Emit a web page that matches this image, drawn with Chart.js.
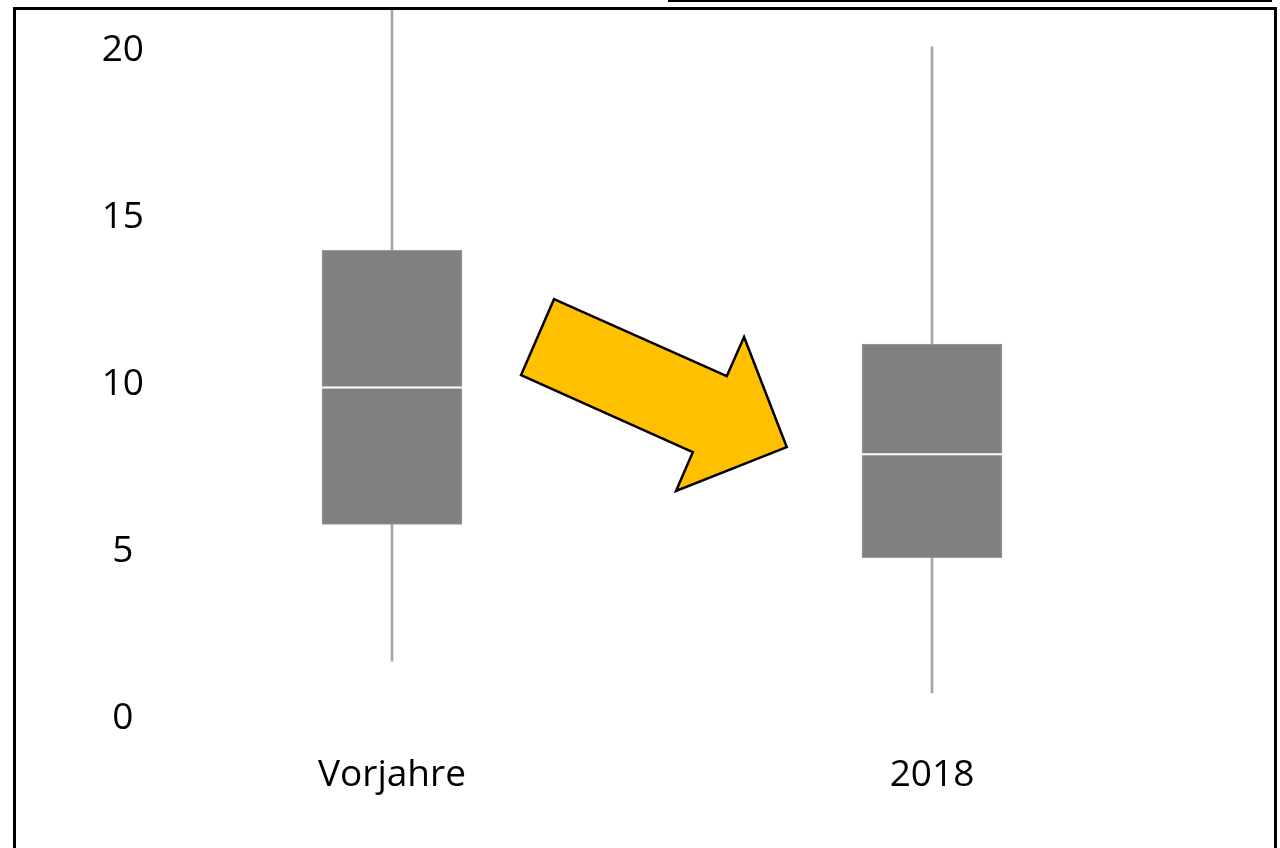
<!DOCTYPE html>
<html>
<head>
<meta charset="utf-8">
<script src="https://cdn.jsdelivr.net/npm/chart.js@4.4.0/dist/chart.umd.min.js"></script>
<style>
  html, body { margin: 0; padding: 0; background: #fff; overflow: hidden; }
  #wrap { position: relative; width: 1280px; height: 848px; }
  #frame { position: absolute; left: 13px; top: 7px; width: 1258px; height: 900px; border: 3px solid #000; pointer-events: none; }
  #topline { position: absolute; left: 668px; top: 0px; width: 604px; height: 2px; background: #000; }
  canvas { position: absolute; left: 0; top: 0; }
</style>
</head>
<body>
<div id="wrap">
  <canvas id="c" width="1280" height="848"></canvas>
  <div id="frame"></div>
  <div id="topline"></div>
</div>
<script>
// ---- data ----
const categories = ['Vorjahre', '2018'];
const whiskerMin = [1.7, 0.75];
const q1Values   = [5.8, 4.8];
const medians    = [9.9, 7.9];
const q3Values   = [14.0, 11.2];
const whiskerMax = [21.2, 20.1];
const yTicks     = [0, 5, 10, 15, 20];
// arrow outline in (category index, value) units
const arrowIdx = [0.30, 0.62, 0.652, 0.731, 0.526, 0.557, 0.239];
const arrowVal = [12.54, 10.24, 11.41, 8.11, 6.80, 7.96, 10.27];

const FONT = "'Open Sans', sans-serif";

const whiskerData = categories.map((c, i) => ({ x: i, y: [whiskerMin[i], whiskerMax[i]] }));
const boxData = categories.map((c, i) => ({ x: i, y: [q1Values[i], q3Values[i]] }));

const extras = {
  id: 'extras',
  afterDatasetsDraw(chart) {
    const ctx = chart.ctx;
    const xs = chart.scales.x, ys = chart.scales.y;
    ctx.save();
    ctx.strokeStyle = '#ffffff';
    ctx.lineWidth = 2;
    const half = 70;
    medians.forEach((m, i) => {
      const px = xs.getPixelForValue(i);
      const py = ys.getPixelForValue(m);
      ctx.beginPath();
      ctx.moveTo(px - half, py);
      ctx.lineTo(px + half, py);
      ctx.stroke();
    });
    ctx.beginPath();
    arrowIdx.forEach((a, k) => {
      const px = xs.getPixelForValue(a);
      const py = ys.getPixelForValue(arrowVal[k]);
      if (k === 0) ctx.moveTo(px, py); else ctx.lineTo(px, py);
    });
    ctx.closePath();
    ctx.fillStyle = '#FFC000';
    ctx.fill();
    ctx.strokeStyle = '#000000';
    ctx.lineWidth = 2.5;
    ctx.lineJoin = 'miter';
    ctx.stroke();
    ctx.restore();
  }
};

new Chart(document.getElementById('c'), {
  type: 'bar',
  data: {
    datasets: [
      {
        label: 'whisker',
        data: whiskerData,
        backgroundColor: '#a6a6a6',
        barThickness: 2,
        grouped: false,
        order: 2
      },
      {
        label: 'box',
        data: boxData,
        backgroundColor: '#808080',
        borderColor: '#9a9a9a',
        borderWidth: 1,
        borderSkipped: false,
        barThickness: 140,
        grouped: false,
        order: 1
      }
    ]
  },
  options: {
    responsive: false,
    animation: false,
    devicePixelRatio: 1,
    layout: { padding: { left: 0, right: 20, top: 10, bottom: 0 } },
    plugins: { legend: { display: false }, tooltip: { enabled: false } },
    scales: {
      x: {
        type: 'linear',
        offset: false,
        min: -0.4296,
        max: 1.6074,
        grid: { display: false, drawTicks: false, offset: false },
        border: { display: false },
        afterFit(s) { s.height = 130; s.paddingLeft = 0; s.paddingRight = 0; },
        afterBuildTicks(s) { s.ticks = categories.map((c, i) => ({ value: i })); },
        ticks: {
          padding: 35,
          color: '#000',
          font: { family: FONT, size: 37 },
          callback: (v) => categories[v] !== undefined ? categories[v] : ''
        }
      },
      y: {
        min: 0,
        max: 21.2,
        grid: { display: false, drawTicks: false },
        border: { display: false },
        afterFit(s) { s.width = 160; s.paddingTop = 0; s.paddingBottom = 0; },
        afterBuildTicks(s) { s.ticks = yTicks.map(v => ({ value: v })); },
        ticks: {
          padding: 16,
          crossAlign: 'center',
          color: '#000',
          font: { family: FONT, size: 37 }
        }
      }
    }
  },
  plugins: [extras]
});
</script>
</body>
</html>
